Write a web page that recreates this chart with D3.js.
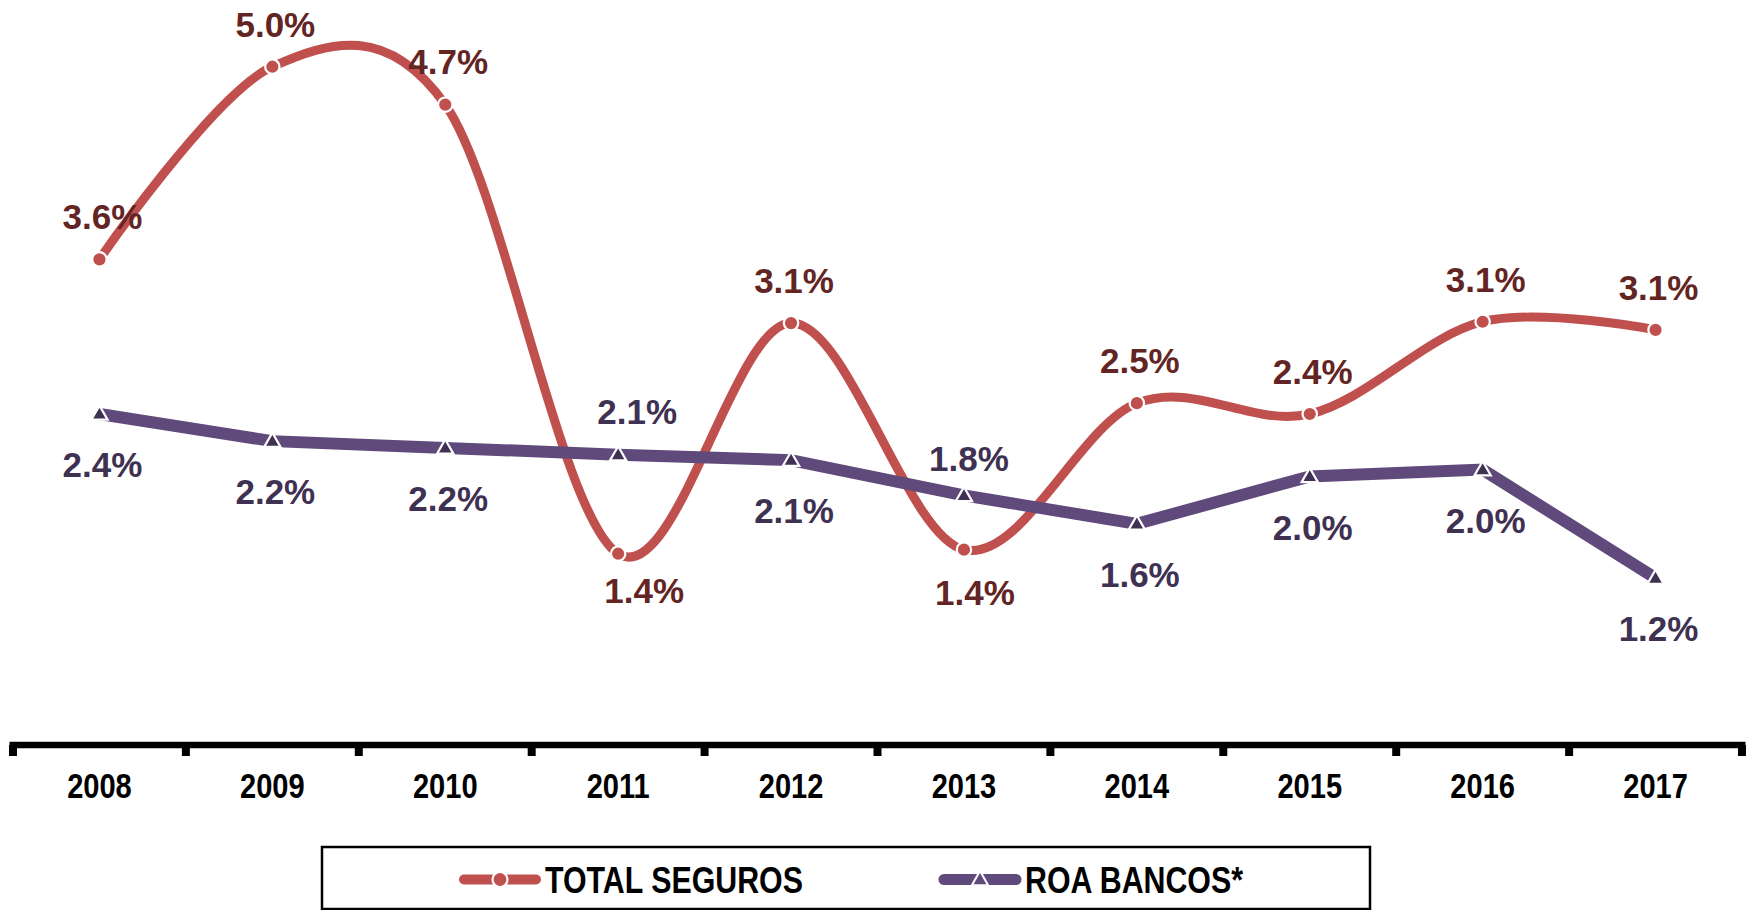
<!DOCTYPE html>
<html>
<head>
<meta charset="utf-8">
<script src="https://cdn.jsdelivr.net/npm/d3@7"></script>
<style>
  html, body { margin: 0; padding: 0; background: #ffffff; }
  svg { display: block; }
</style>
</head>
<body>
<svg id="chart" width="1748" height="910"></svg>
<script>
// ---- data ----
const years = ["2008", "2009", "2010", "2011", "2012", "2013", "2014", "2015", "2016", "2017"];
const totalSeguros = [3.58, 5.0, 4.72, 1.41, 3.11, 1.44, 2.52, 2.44, 3.12, 3.06];
const roaBancos = [2.44, 2.24, 2.19, 2.14, 2.1, 1.84, 1.63, 1.98, 2.03, 1.23];
const seriesNames = ["TOTAL SEGUROS", "ROA BANCOS*"];

// label placement (above / below the point)
const segurosLabelPos = ["a", "a", "a", "b", "a", "b", "a", "a", "a", "a"];
const roaLabelPos = ["b", "b", "b", "a", "b", "a", "b", "b", "b", "b"];

// ---- layout ----
const svg = d3.select("#chart");
const x = d3.scaleBand().domain(years).range([13, 1742]).padding(0);
const y = d3.scaleLinear().domain([0, 5]).range([745, 66.7]);
const cx = d => x(d) + x.bandwidth() / 2;

const RED = "#C0504D", RED_TXT = "#632523";
const PUR = "#604A7B", PUR_TXT = "#3F3151", PUR_MK = "#3F3151";
const labelFont = "'Liberation Sans', Arial, sans-serif";
const narrowFont = "'Liberation Sans Narrow', 'Arial Narrow', 'Liberation Sans', Arial, sans-serif";

// condense text to mimic a narrow face
function narrow(sel, factor) {
  sel.each(function () {
    const w = this.getComputedTextLength();
    d3.select(this).attr("textLength", w * factor).attr("lengthAdjust", "spacingAndGlyphs");
  });
}

// ---- x axis ----
const axisY = 745;
svg.append("line")
  .attr("x1", 9.5).attr("x2", 1745.5)
  .attr("y1", axisY).attr("y2", axisY)
  .attr("stroke", "#000").attr("stroke-width", 6.6);

const edges = years.map(d => x(d)).concat([x(years[years.length - 1]) + x.bandwidth()]);
svg.selectAll(".tk").data(edges).enter().append("line")
  .attr("x1", d => d).attr("x2", d => d)
  .attr("y1", axisY).attr("y2", axisY + 11)
  .attr("stroke", "#000").attr("stroke-width", 8);

const xAxis = d3.axisBottom(x).tickSize(0).tickPadding(0);
const gx = svg.append("g").attr("transform", `translate(0, ${axisY})`).call(xAxis);
gx.select(".domain").remove();
gx.selectAll("text")
  .attr("y", 53).attr("dy", 0)
  .style("font-family", narrowFont)
  .style("font-weight", "bold")
  .style("font-size", "35px")
  .attr("fill", "#000")
  .call(narrow, 0.83);

// ---- lines ----
const lineSmooth = d3.line()
  .x((d, i) => cx(years[i]))
  .y(d => y(d))
  .curve(d3.curveCardinal.tension(0));
const lineStraight = d3.line()
  .x((d, i) => cx(years[i]))
  .y(d => y(d));

svg.append("path").datum(totalSeguros)
  .attr("d", lineSmooth)
  .attr("fill", "none").attr("stroke", RED).attr("stroke-width", 9)
  .attr("stroke-linecap", "round").attr("stroke-linejoin", "round");

svg.selectAll(".mkr").data(totalSeguros).enter().append("circle")
  .attr("cx", (d, i) => cx(years[i])).attr("cy", d => y(d))
  .attr("r", 7.2)
  .attr("fill", RED).attr("stroke", "#fff").attr("stroke-width", 2.2);

svg.append("path").datum(roaBancos)
  .attr("d", lineStraight)
  .attr("fill", "none").attr("stroke", PUR).attr("stroke-width", 12)
  .attr("stroke-linejoin", "miter");

const tri = d3.symbol().type(d3.symbolTriangle).size(115);
svg.selectAll(".mkt").data(roaBancos).enter().append("path")
  .attr("d", tri)
  .attr("transform", (d, i) => `translate(${cx(years[i])}, ${y(d) + 1})`)
  .attr("fill", PUR_MK).attr("stroke", "#fff").attr("stroke-width", 2.2);

// ---- data labels ----
const fmt = v => v.toFixed(1) + "%";
const cap = 12.3; // half cap height for baseline placement
svg.selectAll(".ls").data(totalSeguros).enter().append("text")
  .attr("x", (d, i) => cx(years[i]) + (i === 3 ? 26 : i === 5 ? 11 : 3))
  .attr("y", (d, i) => y(d) + (segurosLabelPos[i] === "a" ? -42.5 : (i === 3 ? 37 : 43)) + cap)
  .attr("text-anchor", "middle")
  .style("font-family", labelFont).style("font-weight", "bold").style("font-size", "35px")
  .attr("fill", RED_TXT)
  .text(fmt);

svg.selectAll(".lr").data(roaBancos).enter().append("text")
  .attr("x", (d, i) => cx(years[i]) + (i === 3 ? 19 : i === 5 ? 5 : 3))
  .attr("y", (d, i) => y(d) + (roaLabelPos[i] === "a" ? (i === 3 ? -43 : -37) : 51) + cap)
  .attr("text-anchor", "middle")
  .style("font-family", labelFont).style("font-weight", "bold").style("font-size", "35px")
  .attr("fill", PUR_TXT)
  .text(fmt);

// ---- legend ----
const lg = svg.append("g");
lg.append("rect")
  .attr("x", 322).attr("y", 847).attr("width", 1048).attr("height", 62)
  .attr("fill", "#fff").attr("stroke", "#000").attr("stroke-width", 2.5);

const legendItems = [
  { name: seriesNames[0], x0: 459, x1: 541, tx: 545, color: RED, mk: "circle", sw: 10 },
  { name: seriesNames[1], x0: 939, x1: 1021, tx: 1025, color: PUR, mk: "tri", sw: 11 }
];
const ly = 879.5;
legendItems.forEach(it => {
  lg.append("line")
    .attr("x1", it.x0 + 5).attr("x2", it.x1 - 5).attr("y1", ly).attr("y2", ly)
    .attr("stroke", it.color).attr("stroke-width", it.sw).attr("stroke-linecap", "round");
  const mx = (it.x0 + it.x1) / 2;
  if (it.mk === "circle") {
    lg.append("circle").attr("cx", mx).attr("cy", ly).attr("r", 7.5)
      .attr("fill", it.color).attr("stroke", "#fff").attr("stroke-width", 2.2);
  } else {
    lg.append("path").attr("d", tri).attr("transform", `translate(${mx}, ${ly + 1})`)
      .attr("fill", it.color).attr("stroke", "#fff").attr("stroke-width", 2);
  }
  lg.append("text")
    .attr("x", it.tx).attr("y", 893)
    .style("font-family", narrowFont).style("font-weight", "bold").style("font-size", "37px")
    .attr("fill", "#000")
    .text(it.name)
    .call(narrow, 0.82);
});
</script>
</body>
</html>
